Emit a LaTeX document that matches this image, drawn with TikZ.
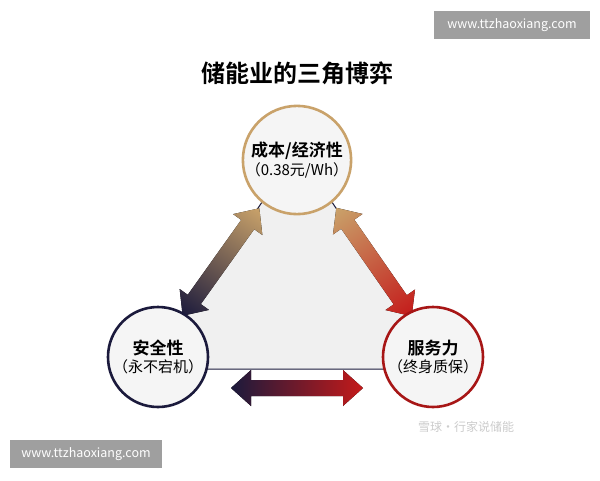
\documentclass[tikz,border=0pt]{standalone}
\usepackage{fontspec}
\setmainfont{Noto Sans CJK SC}
\newfontfamily\cjkb{Noto Sans CJK SC}[BoldFont={* Bold}]
\begin{document}
\begin{tikzpicture}[x=1pt,y=-1pt,
  circ/.style={circle,minimum size=96pt,line width=2.6pt,fill=gray!8,align=center,inner sep=0pt},
  wm/.style={fill=gray!75,text=white,font=\fontsize{12.5}{14}\selectfont,inner sep=0pt,minimum height=28pt}]
\definecolor{tan}{HTML}{C9A26A}
\definecolor{navy}{HTML}{1B1A3C}
\definecolor{rd}{HTML}{C41A1A}
\useasboundingbox (0,0) rectangle (600,480);
\fill[white] (0,0) rectangle (600,480);
\node[font=\cjkb\bfseries\fontsize{24}{28}\selectfont] (title) at (297,73) {储能业的三角博弈};
% triangle
\coordinate (ta) at (297,150);
\coordinate (tl) at (150,369);
\coordinate (tr) at (444,369);
\fill[gray!12] (ta)--(tl)--(tr)--cycle;
\draw[navy,line width=1pt] (ta)--(tl)--(tr)--cycle;
% arrows
\newcommand\darrow[2]{\fill[left color=#1,right color=#2] (-66,0)--(-46,18)--(-46,8)--(46,8)--(46,18)--(66,0)--(46,-18)--(46,-8)--(-46,-8)--(-46,-18)--cycle;}
\begin{scope}[transform canvas={shift={(221pt,-262pt)},rotate=54.5}]
\darrow{navy}{tan}
\end{scope}
\begin{scope}[transform canvas={shift={(374pt,-262pt)},rotate=-55.2}]
\darrow{tan}{rd}
\end{scope}
\begin{scope}[transform canvas={shift={(297pt,-388pt)}}]
\darrow{navy}{rd}
\end{scope}
% circles
\node[circ,draw=tan] (cost) at (297,160) {{\cjkb\bfseries\fontsize{17}{20}\selectfont 成本/经济性}\\[2pt]{\fontsize{15}{18}\selectfont （0.38元/Wh）}};
\node[circ,draw=navy,minimum size=100pt] (safe) at (158,357) {{\cjkb\bfseries\fontsize{17}{20}\selectfont 安全性}\\[2pt]{\fontsize{15}{18}\selectfont （永不宕机）}};
\node[circ,draw=rd!85!black,minimum size=100pt] (serv) at (433,357) {{\cjkb\bfseries\fontsize{17}{20}\selectfont 服务力}\\[2pt]{\fontsize{15}{18}\selectfont （终身质保）}};
% watermarks
\node[wm,minimum width=156pt] (wm1) at (512,25) {www.ttzhaoxiang.com};
\node[wm,minimum width=152pt] (wm2) at (86,454) {www.ttzhaoxiang.com};
\node[text=gray!40,font=\fontsize{12}{14}\selectfont] (wm3) at (466,427) {雪球·行家说储能};
\end{tikzpicture}
\end{document}
